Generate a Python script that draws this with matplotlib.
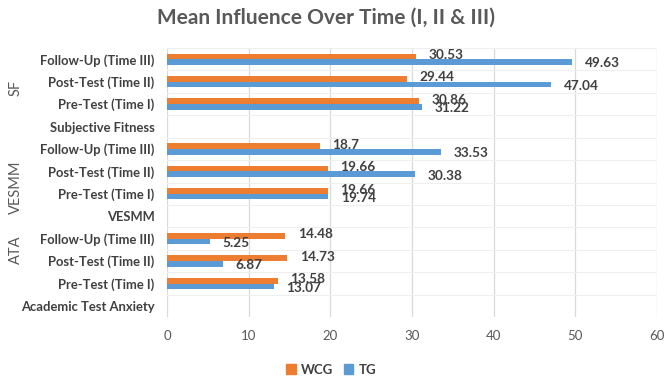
import matplotlib
matplotlib.use("Agg")
import matplotlib.pyplot as plt
import numpy as np

categories = ["Academic Test Anxiety", "Pre-Test (Time I)", "Post-Test (Time II)", "Follow-Up (Time III)",
              "VESMM", "Pre-Test (Time I)", "Post-Test (Time II)", "Follow-Up (Time III)",
              "Subjective Fitness", "Pre-Test (Time I)", "Post-Test (Time II)", "Follow-Up (Time III)"]
wcg = [None, 13.58, 14.73, 14.48, None, 19.66, 19.66, 18.7, None, 30.86, 29.44, 30.53]
tg = [None, 13.07, 6.87, 5.25, None, 19.74, 30.38, 33.53, None, 31.22, 47.04, 49.63]
groups = ["ATA", "VESMM", "SF"]
group_pos = [2.49, 5.30, 9.71]
xticks = [0, 10, 20, 30, 40, 50, 60]

ORANGE = "#ED7D31"
BLUE = "#5B9BD5"
TXT = "#404040"
FAM = ["Lato", "DejaVu Sans"]

fig = plt.figure(figsize=(6.69, 3.78), dpi=100)
ax = fig.add_axes([0.2496, 0.161, 0.7324, 0.712])

y = np.arange(len(categories))
h = 0.25
for i, (a, b) in enumerate(zip(wcg, tg)):
    if a is not None:
        ax.barh(i + h / 2, a, height=h, color=ORANGE, zorder=3)
        ax.annotate(f"{a:g}", (a, i + h / 2), xytext=(9, 1), textcoords="offset points",
                    va="center", ha="left", fontsize=9.8, fontweight="bold", color=TXT, family=FAM, zorder=4)
    if b is not None:
        ax.barh(i - h / 2, b, height=h, color=BLUE, zorder=3)
        ax.annotate(f"{b:g}", (b, i - h / 2), xytext=(9, -1), textcoords="offset points",
                    va="center", ha="left", fontsize=9.8, fontweight="bold", color=TXT, family=FAM, zorder=4)

ax.set_xlim(0, 60)
ax.set_ylim(-0.5, len(categories) - 0.5)
ax.set_xticks(xticks)
ax.set_xticklabels([str(t) for t in xticks], fontsize=9.5, color="#595959", family=FAM)
ax.set_yticks(y)
ax.set_yticklabels(categories, fontsize=9.4, fontweight="bold", color=TXT, family=FAM)
ax.set_yticks(np.arange(-0.5, len(categories), 0.5), minor=True)
ax.tick_params(axis="both", length=0, which="both")
ax.tick_params(axis="x", pad=9)
ax.tick_params(axis="y", pad=9)
ax.grid(axis="x", color="#D9D9D9", linewidth=0.9, zorder=0)
ax.grid(axis="y", which="minor", color="#EFEFEF", linewidth=0.8, zorder=0)
for s in ax.spines.values():
    s.set_visible(False)

for g, p in zip(groups, group_pos):
    ax.text(-0.3085, p, g, transform=ax.get_yaxis_transform(), rotation=90, ha="center", va="center",
            fontsize=10.5, color="#595959", family=FAM)

fig.text(0.488, 0.952, "Mean Influence Over Time (I, II & III)", ha="center", va="center",
         fontsize=15, fontweight="bold", color="#595959", family=FAM)

from matplotlib.patches import Patch
handles = [Patch(color=ORANGE, label="WCG"), Patch(color=BLUE, label="TG")]
leg = fig.legend(handles=handles, loc="center", bbox_to_anchor=(0.495, 0.022), ncol=2, frameon=False,
                 handlelength=0.7, handleheight=0.7, handletextpad=0.4, columnspacing=0.8,
                 prop={"family": FAM, "weight": "bold", "size": 9.5})
for t in leg.get_texts():
    t.set_color(TXT)

fig.savefig("out.png", dpi=100)
